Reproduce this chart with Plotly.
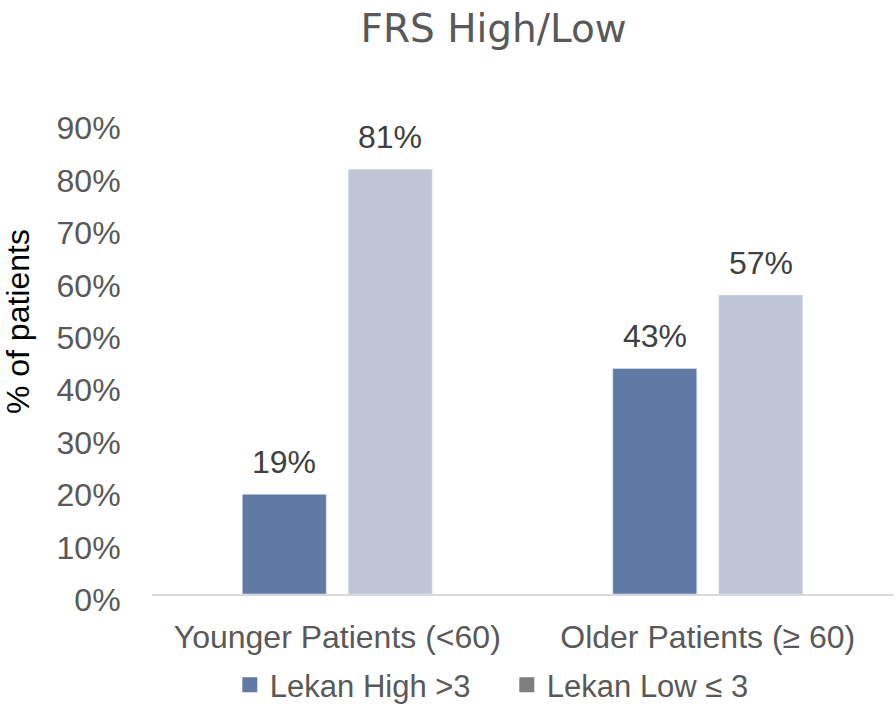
import plotly.graph_objects as go

categories = ["Younger Patients (<60)", "Older Patients (≥ 60)"]
high_vals = [0.19, 0.43]
low_vals = [0.81, 0.57]
high_name = "Lekan High >3"
low_name = "Lekan Low ≤ 3"
tick_vals = [0, 0.1, 0.2, 0.3, 0.4, 0.5, 0.6, 0.7, 0.8, 0.9]
tick_text = ["0%", "10%", "20%", "30%", "40%", "50%", "60%", "70%", "80%", "90%"]
y_title = "% of patients"
chart_title = "FRS High/Low"

c_high = "#6179A5"
c_low = "#C0C5D6"
c_low_legend = "#7F7F7F"
font_main = "Liberation Sans, Arial, sans-serif"

W, H = 896, 707
ML, MR, MT, MB = 152, 3, 122, 113
BARGAP = 0.428
BARGROUPGAP = 0.2075

fig = go.Figure()
fig.add_trace(go.Bar(x=categories, y=high_vals, name=high_name, marker_color=c_high,
                     showlegend=False))
fig.add_trace(go.Bar(x=categories, y=low_vals, name=low_name, marker_color=c_low,
                     showlegend=False))
# legend entries (no data)
fig.add_trace(go.Scatter(x=[None], y=[None], mode="markers", name=high_name,
                         marker=dict(symbol="square", size=15, color=c_high), showlegend=True))
fig.add_trace(go.Scatter(x=[None], y=[None], mode="markers", name=low_name,
                         marker=dict(symbol="square", size=15, color=c_low_legend), showlegend=True))

# value labels above bars, positioned via the axes (offset of each bar within group)
cat_px = (W - ML - MR) / len(categories)
slot_px = cat_px * (1 - BARGAP) / 2
for vals, sign in ((high_vals, -1), (low_vals, 1)):
    for cat, v in zip(categories, vals):
        fig.add_annotation(x=cat, y=v, text=f"{v*100:.0f}%", showarrow=False,
                           xanchor="center", yanchor="bottom",
                           xshift=sign * slot_px / 2, yshift=12,
                           font=dict(size=32, color="#404040", family=font_main))

# y-axis title (placed a little above the plot centre, as in the original)
fig.add_annotation(text=y_title, xref="paper", yref="paper", x=-0.181, y=0.578,
                   xanchor="center", yanchor="middle", textangle=-90, showarrow=False,
                   font=dict(size=32, color="black", family=font_main))

fig.update_layout(
    width=W, height=H,
    margin=dict(l=ML, r=MR, t=MT, b=MB),
    paper_bgcolor="white", plot_bgcolor="white",
    barmode="group", bargap=BARGAP, bargroupgap=BARGROUPGAP,
    title=dict(text=chart_title, xref="paper", x=0.461, xanchor="center",
               yref="container", y=(H - 28) / H, yanchor="middle",
               font=dict(family="DejaVu Sans, sans-serif", size=39, color="#595959")),
    legend=dict(orientation="h", x=0.105, xanchor="left",
                yref="container", y=(H - 685) / H, yanchor="middle",
                font=dict(size=31, color="#595959", family=font_main),
                itemwidth=30, entrywidth=232, traceorder="normal"),
    font=dict(family=font_main),
)
fig.update_yaxes(range=[0, 0.9], tickvals=tick_vals, ticktext=tick_text,
                 tickfont=dict(size=32, color="#595959"), showgrid=False, zeroline=False,
                 showline=False, ticks="outside", ticklen=24, tickcolor="rgba(0,0,0,0)",
                 ticklabelshift=6)
fig.update_xaxes(tickfont=dict(size=32, color="#595959"), showline=True, linecolor="#D9D9D9",
                 linewidth=1.5, ticks="outside", ticklen=14, tickcolor="rgba(0,0,0,0)",
                 showgrid=False)

fig.write_html("out.html", post_script="document.body.style.margin='0';",
               config={"displayModeBar": False})
